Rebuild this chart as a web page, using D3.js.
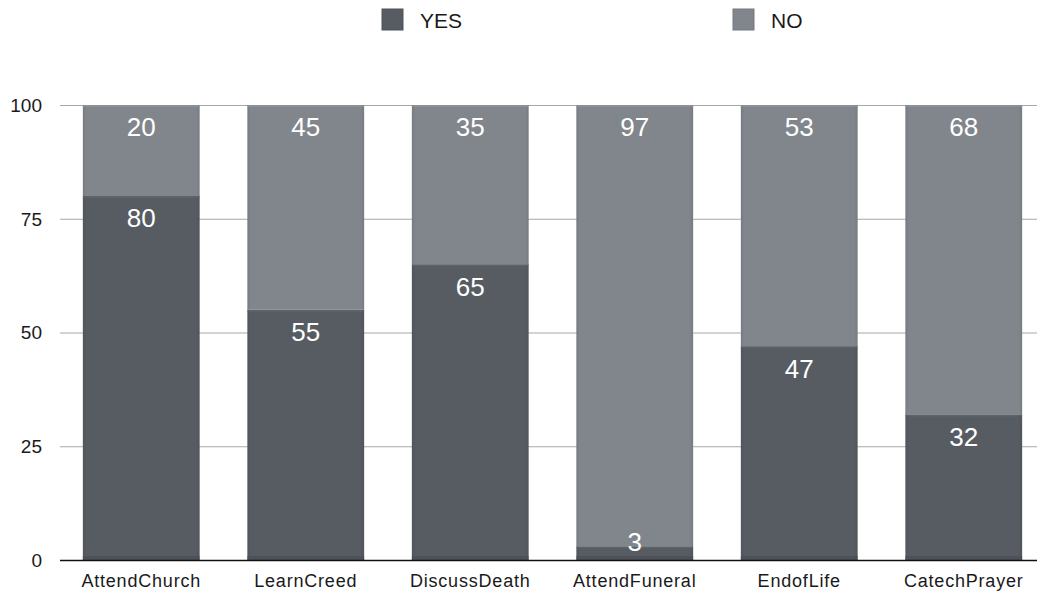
<!DOCTYPE html>
<html>
<head>
<meta charset="utf-8">
<script src="https://cdn.jsdelivr.net/npm/d3@7"></script>
<style>
  html, body { margin: 0; padding: 0; background: #fff; }
  svg { display: block; font-family: "Liberation Sans", Arial, Helvetica, sans-serif; }
</style>
</head>
<body>
<svg id="chart" width="1037" height="592"></svg>
<script>
// Survey answers per activity (percent)
const categories = ["AttendChurch", "LearnCreed", "DiscussDeath", "AttendFuneral", "EndofLife", "CatechPrayer"];
const yesValues = [80, 55, 65, 3, 47, 32];
const noValues = [20, 45, 35, 97, 53, 68];
const seriesNames = ["YES", "NO"];
const yTicks = [0, 25, 50, 75, 100];

const colors = { YES: "#575c63", NO: "#81868c" };

const svg = d3.select("#chart");
const W = 1037, H = 592;
const plotLeft = 59, plotRight = 1046, plotTop = 105, plotBottom = 560;

const x = d3.scaleBand().domain(categories).range([plotLeft, plotRight]).paddingInner(0.29).paddingOuter(0.145);
const y = d3.scaleLinear().domain([0, 100]).range([plotBottom, plotTop]);

// Horizontal grid
svg.append("g").selectAll("line").data(yTicks.filter(t => t > 0)).join("line")
  .attr("x1", 60).attr("x2", W)
  .attr("y1", d => y(d) + 0.5).attr("y2", d => y(d) + 0.5)
  .attr("stroke", "#a8a8a8").attr("stroke-width", 1);

// Y tick labels
svg.append("g").selectAll("text").data(yTicks).join("text")
  .attr("x", 42).attr("y", d => y(d))
  .attr("dy", "0.36em")
  .attr("text-anchor", "end")
  .attr("font-size", 19).attr("fill", "#1a1a1a")
  .text(d => d);

// Stacked data
const rows = categories.map((c, i) => ({ cat: c, YES: yesValues[i], NO: noValues[i] }));
const stack = d3.stack().keys(seriesNames)(rows);

const defs = svg.append("defs");
seriesNames.forEach(k => {
  const g = defs.append("linearGradient").attr("id", "grad-" + k).attr("x1", 0).attr("x2", 1).attr("y1", 0).attr("y2", 0);
  const c = d3.color(colors[k]);
  g.append("stop").attr("offset", "0%").attr("stop-color", c.darker(0.25));
  g.append("stop").attr("offset", "3%").attr("stop-color", c);
  g.append("stop").attr("offset", "97%").attr("stop-color", c);
  g.append("stop").attr("offset", "100%").attr("stop-color", c.darker(0.25));
});

const layers = svg.append("g").selectAll("g").data(stack).join("g")
  .attr("fill", d => `url(#grad-${d.key})`);

layers.selectAll("rect").data(d => d).join("rect")
  .attr("x", d => x(d.data.cat))
  .attr("width", x.bandwidth())
  .attr("y", d => y(d[1]))
  .attr("height", d => y(d[0]) - y(d[1]));

// Soft highlight at the top edge of each segment
layers.each(function(layer) {
  d3.select(this).selectAll("line.edge").data(layer).join("line")
    .attr("class", "edge")
    .attr("x1", d => x(d.data.cat)).attr("x2", d => x(d.data.cat) + x.bandwidth())
    .attr("y1", d => y(d[1]) + 1).attr("y2", d => y(d[1]) + 1)
    .attr("stroke", d3.color(colors[layer.key]).brighter(0.35))
    .attr("stroke-width", 2).attr("opacity", 0.6);
});

// Darker band along the foot of each bar
svg.append("g").selectAll("rect").data(categories).join("rect")
  .attr("x", d => x(d)).attr("width", x.bandwidth())
  .attr("y", plotBottom - 4).attr("height", 4)
  .attr("fill", "#4a4e54").attr("opacity", 0.7);

// Value labels near the top of each segment (drawn above all bars)
const labelGroup = svg.append("g");
stack.forEach(layer => {
  labelGroup.append("g").selectAll("text").data(layer).join("text")
    .attr("x", d => x(d.data.cat) + x.bandwidth() / 2)
    .attr("y", d => Math.min(y(d[1]) + 22, plotBottom - 18))
    .attr("dy", "0.36em")
    .attr("text-anchor", "middle")
    .attr("font-size", 26)
    .attr("fill", "#fff")
    .text(d => d[1] - d[0]);
});

// Baseline
svg.append("line")
  .attr("x1", 60).attr("x2", W)
  .attr("y1", plotBottom + 0.5).attr("y2", plotBottom + 0.5)
  .attr("stroke", "#111").attr("stroke-width", 1.3);

// Category labels
svg.append("g").selectAll("text").data(categories).join("text")
  .attr("x", d => x(d) + x.bandwidth() / 2)
  .attr("y", 581)
  .attr("dy", "0.36em")
  .attr("text-anchor", "middle")
  .attr("font-size", 18).attr("letter-spacing", 0.8).attr("fill", "#1a1a1a")
  .text(d => d);

// Legend
const legendPos = [{ key: "YES", x: 382 }, { key: "NO", x: 733 }];
const lg = svg.append("g").selectAll("g").data(legendPos).join("g")
  .attr("transform", d => `translate(${d.x},9)`);
lg.append("rect").attr("width", 21).attr("height", 21)
  .attr("fill", d => colors[d.key])
  .attr("stroke", d => d3.color(colors[d.key]).darker(0.3)).attr("stroke-width", 1);
lg.append("text").attr("x", 38).attr("y", 11).attr("dy", "0.36em")
  .attr("font-size", 21).attr("fill", "#1a1a1a")
  .text(d => d.key);
</script>
</body>
</html>
